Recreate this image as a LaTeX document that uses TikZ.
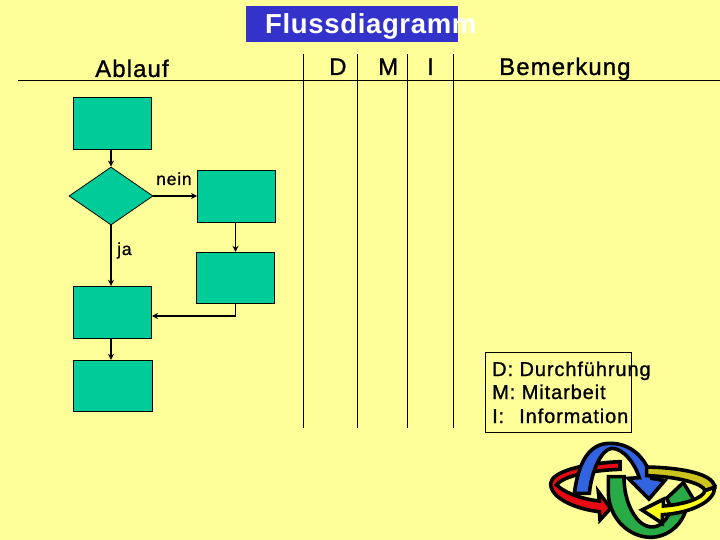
\documentclass[tikz,border=0pt]{standalone}
\usepackage{fontspec}
\setmainfont{Liberation Sans}
\newfontfamily\widefont[LetterSpace=4.5,FakeBold=1]{Liberation Sans}
\newfontfamily\widebold[LetterSpace=2.4]{Liberation Sans Bold}
\usetikzlibrary{shapes.geometric,arrows.meta}
\definecolor{paper}{RGB}{255,255,153}
\definecolor{stepgreen}{RGB}{0,204,153}
\definecolor{titleblue}{RGB}{51,51,204}
\definecolor{logored}{RGB}{230,10,20}
\definecolor{logoblue}{RGB}{50,100,225}
\definecolor{logogreen}{RGB}{40,170,70}
\definecolor{logoolive}{RGB}{205,195,30}
\definecolor{logoyellow}{RGB}{255,255,20}
\tikzset{
  stepbox/.style={draw, line width=0.8pt, fill=stepgreen, inner sep=0pt, minimum width=78pt, minimum height=52pt},
  flow/.style={line width=1.3pt, -{Stealth[length=6pt,width=6pt]}},
  rule/.style={line width=0.9pt},
  head/.style={font=\widefont\fontsize{24}{24}\selectfont, anchor=base west, inner sep=0pt},
  small/.style={font=\widefont\fontsize{17.5}{18}\selectfont, anchor=base west, inner sep=0pt},
  legend/.style={font=\widefont\fontsize{20}{20}\selectfont, anchor=base west, inner sep=0pt},
  band/.style={draw=black, line width=3.6pt, line join=miter},
}
\begin{document}
\begin{tikzpicture}[x=1pt,y=-1pt]
\useasboundingbox (0,0) rectangle (720,540);
\fill[paper] (0,0) rectangle (720,540);

\node[fill=titleblue, inner sep=0pt, minimum width=212pt, minimum height=36pt] (title) at (352,24) {};
\node[font=\widebold\fontsize{27.5}{28}\selectfont, text=white, anchor=base west, inner sep=0pt] (titletext) at (265,34) {Flussdiagramm};

\draw[rule] (18,80) -- (720,80);
\draw[rule] (303,54) -- (303,428);
\draw[rule] (357,54) -- (357,428);
\draw[rule] (407.5,54) -- (407.5,428);
\draw[rule] (453,54) -- (453,428);

\node[head] (ablauf) at (95,77) {Ablauf};
\node[head] (d) at (329,75) {D};
\node[head] (m) at (378,75) {M};
\node[head] (i) at (427,75) {I};
\node[head] (bem) at (499,75) {Bemerkung};

\node[stepbox] (r1) at (112.5,123.2) {};
\node[draw, line width=0.8pt, fill=stepgreen, diamond, inner sep=0pt, aspect=1.45, minimum width=84pt, minimum height=58pt] (dia) at (111,196) {};
\node[stepbox] (r2) at (236.5,196.2) {};
\node[stepbox, minimum height=51pt] (r3) at (235.5,277.7) {};
\node[stepbox] (r4) at (112.5,312.2) {};
\node[stepbox, minimum width=79pt, minimum height=51pt] (r5) at (113,385.7) {};
\coordinate (back) at (152,316);

\draw[flow] (r1.south -| dia.north) -- (dia.north);
\draw[flow] (dia.east) -- (r2.west |- dia.east);
\draw[flow] (dia.south) -- (dia.south |- r4.north);
\draw[flow] (r2.south -| r3.north) -- (r3.north);
\draw[flow] (r3.south) |- (back);
\draw[flow] (dia.south |- r4.south) -- (dia.south |- r5.north);

\node[small] (nein) at (156,185) {nein};
\node[small] (ja) at (117,255) {ja};

\node[draw, line width=0.8pt, inner sep=0pt, minimum width=146pt, minimum height=80pt] (key) at (558.5,392.5) {};
\node[legend] (k1) at (492,376) {D: Durchführung};
\node[legend] (k2) at (492,399) {M: Mitarbeit};
\node[legend] (k3) at (492,423) {I:\hspace{15pt}Information};

\begin{scope}[shift={(540,430)},x=0.3333pt,y=-0.3333pt]
% red
\draw[band, fill=logored] (240,95) -- (240,118) .. controls (170,120) and (70,135) .. (50,165)
  .. controls (75,190) and (130,208) .. (178,213) -- (175,185) -- (212,235) -- (180,270) -- (178,245)
  .. controls (110,238) and (30,205) .. (32,160) .. controls (35,125) and (130,100) .. (240,95) -- cycle;
% blue
\draw[band, fill=logoblue] (103,190) .. controls (115,100) and (145,40) .. (210,40)
  .. controls (275,40) and (318,85) .. (335,145) -- (374,152) -- (327,207) -- (265,145)
  -- (298,143) .. controls (285,100) and (250,55) .. (215,55)
  .. controls (185,58) and (155,120) .. (148,190) -- cycle;
% green
\draw[band, fill=logogreen] (205,140) -- (252,140) .. controls (252,190) and (265,235) .. (292,268)
  .. controls (312,292) and (345,300) .. (368,278) .. controls (383,263) and (390,250) .. (393,232)
  -- (380,205) -- (430,158) -- (465,215) -- (442,222) .. controls (432,282) and (385,322) .. (330,322)
  .. controls (265,320) and (208,265) .. (205,190) -- cycle;
% olive and yellow
\draw[band, fill=logoolive] (320,111) .. controls (420,113) and (522,130) .. (524,172)
  -- (495,182) .. controls (490,162) and (420,140) .. (320,137) -- cycle;
\draw[band, fill=logoyellow] (524,172) .. controls (525,215) and (450,250) .. (367,254) -- (367,280)
  -- (306,240) -- (370,208) -- (370,228) .. controls (430,224) and (490,205) .. (495,182) -- cycle;
\end{scope}
\end{tikzpicture}
\end{document}
